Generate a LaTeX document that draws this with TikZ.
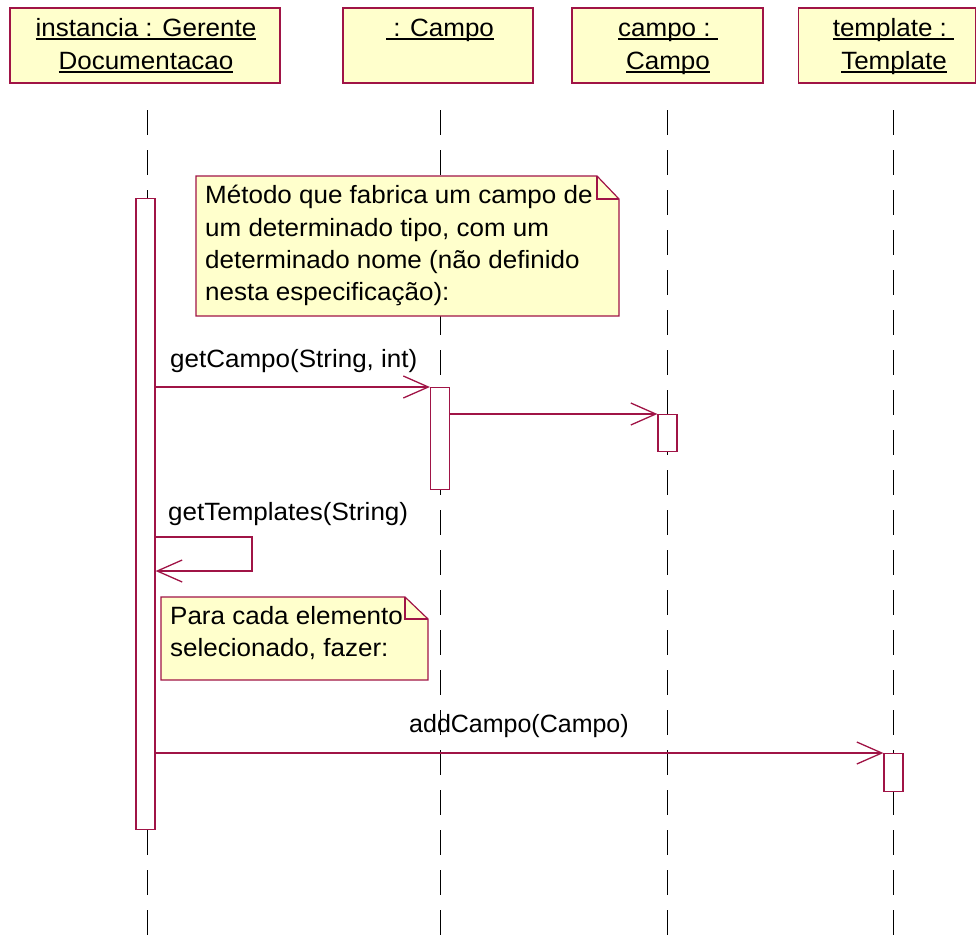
\documentclass[tikz,border=0pt]{standalone}
\usepackage{fontspec}
\setmainfont{Liberation Sans}[FakeStretch=1.04]
\usetikzlibrary{arrows.meta}
\definecolor{crim}{RGB}{160,20,70}
\definecolor{noteyel}{RGB}{255,255,204}
\newcommand\ulbox[1]{\setbox0\hbox{#1}\leavevmode\rlap{\rule[-3.2pt]{\wd0}{1.3pt}}\box0}
\begin{document}
\begin{tikzpicture}[x=1pt,y=-1pt,
  font=\fontsize{25}{33}\selectfont,
  head/.style={draw=crim, fill=noteyel, line width=1.2pt, inner sep=0pt},
  htext/.style={inner sep=0pt, anchor=base},
  lifeline/.style={draw=black, line width=1pt, dash pattern=on 25pt off 15pt},
  bar/.style={draw=crim, fill=white, line width=1.2pt, minimum width=19pt, inner sep=0pt, anchor=north},
  msg/.style={draw=crim, line width=1.3pt, -{Straight Barb[length=25pt,width=22pt]}},
  notebox/.style={draw=crim, fill=noteyel, line width=1.2pt, line join=miter},
  notefold/.style={draw=crim, line width=1.2pt},
  txt/.style={inner sep=0pt, anchor=base west}]
\useasboundingbox (0,0) rectangle (977,948);
% lifelines
\coordinate (L1t) at (147,110); \coordinate (L1b) at (147,948);
\coordinate (L2t) at (440,110); \coordinate (L2b) at (440,948);
\coordinate (L3t) at (667,110); \coordinate (L3b) at (667,948);
\coordinate (L4t) at (893,110); \coordinate (L4b) at (893,948);
\draw[lifeline] (L1t) -- (L1b);
\draw[lifeline] (L2t) -- (L2b);
\draw[lifeline] (L3t) -- (L3b);
\draw[lifeline] (L4t) -- (L4b);
% headers
\node[head, minimum width=270pt, minimum height=75pt] (h1) at (145,45.5) {};
\node[head, minimum width=190pt, minimum height=75pt] (h2) at (438,45.5) {};
\node[head, minimum width=191pt, minimum height=75pt] (h3) at (667.5,45.5) {};
\node[head, minimum width=177pt, minimum height=75pt] (h4) at (887,45.5) {};
\node[htext] (h1a) at (146,36.5) {\ulbox{instancia : Gerente}};
\node[htext] (h1b) at (146,69.5) {\ulbox{Documentacao}};
\node[htext] (h2a) at (440,36.5) {\ulbox{\ : Campo}};
\node[htext] (h3a) at (668,36.5) {\ulbox{campo :\ }};
\node[htext] (h3b) at (668,69.5) {\ulbox{Campo}};
\node[htext] (h4a) at (893.5,36.5) {\ulbox{template :\ }};
\node[htext] (h4b) at (894,69.5) {\ulbox{Template}};
% note 1
\filldraw[notebox] (196,176) -- (597,176) -- (619,199) -- (619,316) -- (196,316) -- cycle;
\draw[notefold] (597,176) -- (597,199) -- (619,199);
\node[txt] (n1a) at (205,203) {Método que fabrica um campo de};
\node[txt] (n1b) at (205,236) {um determinado tipo, com um};
\node[txt] (n1c) at (205,268) {determinado nome (não definido};
\node[txt] (n1d) at (205,300) {nesta especificação):};
% note 2
\filldraw[notebox] (161,597) -- (405,597) -- (428,619) -- (428,680) -- (161,680) -- cycle;
\draw[notefold] (405,597) -- (405,619) -- (428,619);
\node[txt] (n2a) at (170,624) {Para cada elemento};
\node[txt] (n2b) at (170,656) {selecionado, fazer:};
% activation bars
\node[bar, minimum height=631pt] (b1) at (145.5,198) {};
\node[bar, minimum height=102pt] (b2) at (440,387) {};
\node[bar, minimum height=37pt] (b3) at (667.5,414) {};
\node[bar, minimum height=38pt] (b4) at (893.5,753) {};
% messages
\draw[msg] (b1.east |- b2.north) -- (b2.north west);
\node[txt] (m1) at (170,367) {getCampo(String, int)};
\draw[msg] (b2.east |- b3.north) -- (b3.north west);
\coordinate (s1) at (252,537);
\coordinate (s2) at (252,571);
\draw[msg] (b1.east |- s1) -- (s1) -- (s2) -- (b1.east |- s2);
\node[txt] (m2) at (168,520) {getTemplates(String)};
\draw[msg] (b1.east |- b4.north) -- (b4.north west);
\node[txt, font=\fontsize{25}{33}\selectfont\addfontfeature{FakeStretch=1.0}] (m3) at (409,732) {addCampo(Campo)};
\end{tikzpicture}
\end{document}
